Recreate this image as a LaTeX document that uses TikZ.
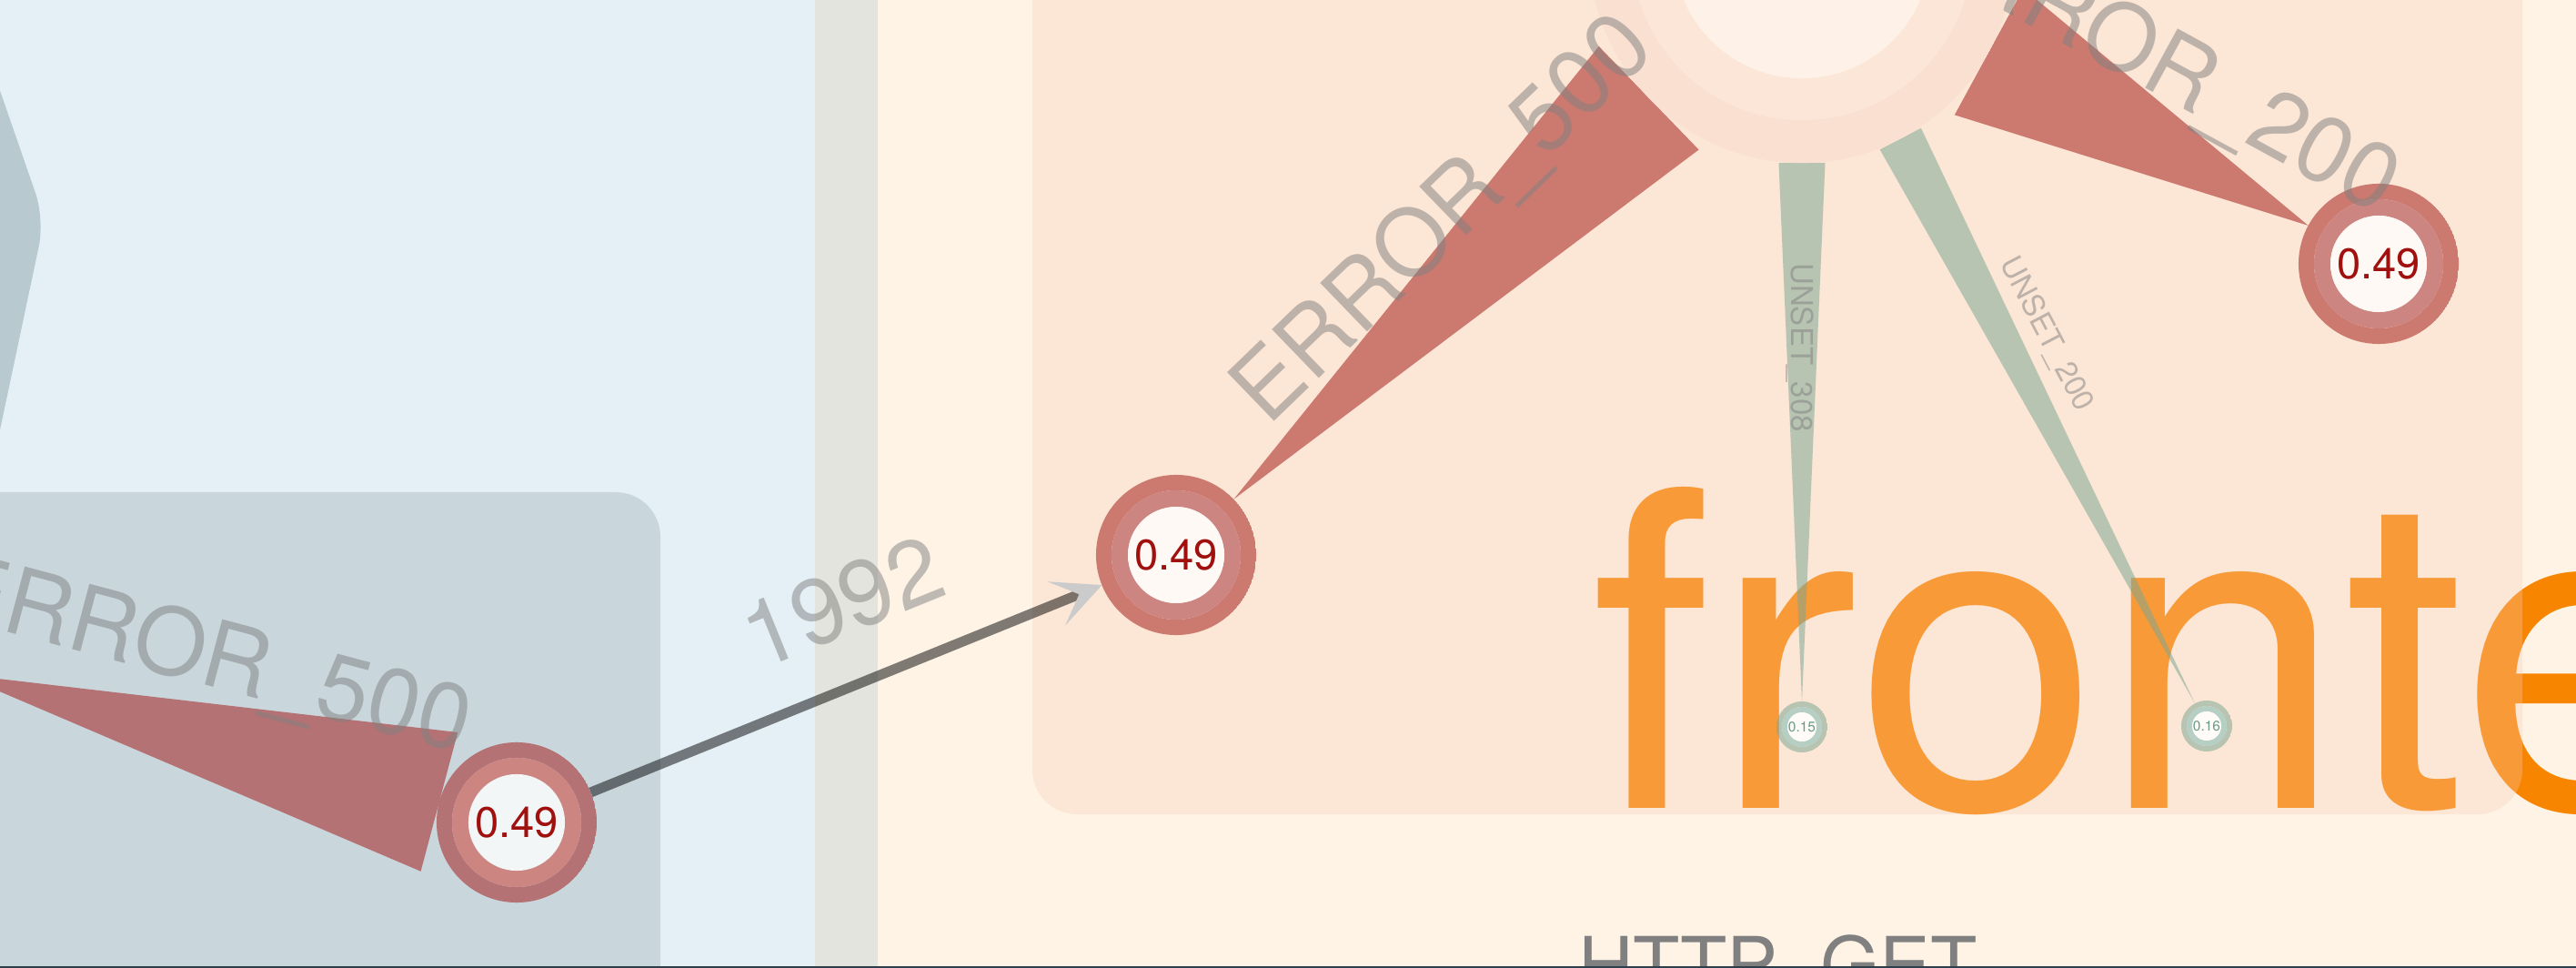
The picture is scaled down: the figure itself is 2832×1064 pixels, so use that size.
\documentclass[tikz,border=0pt]{standalone}
\usepackage{fontspec}
\setmainfont{TeX Gyre Heros}
\usetikzlibrary{positioning, arrows.meta, calc}
\definecolor{colblue}{HTML}{E4F0F5}
\definecolor{colstrip}{HTML}{E3E4DE}
\definecolor{colcream}{HTML}{FEF3E5}
\definecolor{grpblue}{HTML}{C9D7DD}
\definecolor{hexblue}{HTML}{B8C9D0}
\definecolor{grppeach}{HTML}{FACBB2}
\definecolor{svcorange}{HTML}{F78500}
\definecolor{errred}{HTML}{A21A17}
\definecolor{errmid}{HTML}{CD8581}
\definecolor{errtext}{HTML}{A0100F}
\definecolor{unsetgreen}{HTML}{7DA693}
\definecolor{unsetmid}{HTML}{B5CFC4}
\definecolor{unsettext}{HTML}{6A9A88}
\definecolor{hubouter}{HTML}{FAE0D0}
\definecolor{hubmid}{HTML}{FCE6D8}
\definecolor{hubinner}{HTML}{FDF1E8}
\definecolor{tipgray}{HTML}{CBCBCB}
\definecolor{framedark}{HTML}{2F3E4B}
\pgfdeclarelayer{back}
\pgfdeclarelayer{links}
\pgfsetlayers{back,links,main}

\begin{document}
\begin{tikzpicture}[
    x=0.01cm, y=-0.01cm,
    every node/.style={inner sep=0pt, outer sep=0pt},
    ringed/.style n args={6}{circle, minimum size=2*#1, path picture={
        \fill[#4, even odd rule] (path picture bounding box.center) circle[radius=#1] circle[radius=#2];
        \fill[#5, even odd rule] (path picture bounding box.center) circle[radius=#2] circle[radius=#3];
        \fill[#6] (path picture bounding box.center) circle[radius=#3];
      }},
    errnode/.style={ringed={0.88cm}{0.71cm}{0.53cm}{errred, fill opacity=.53}{errmid}{white, fill opacity=.78},
      text=errtext, font=\fontsize{13.4}{14}\selectfont},
    unsetnode/.style={ringed={0.28cm}{0.22cm}{0.16cm}{unsetgreen, fill opacity=.53}{unsetmid}{white, fill opacity=.85},
      text=unsettext, font=\fontsize{4.4}{5}\selectfont},
    hubnode/.style={ringed={2.34cm}{1.87cm}{1.41cm}{hubouter}{hubmid}{hubinner}},
    errwedge/.style={fill=errred, fill opacity=.53},
    unsetwedge/.style={fill=unsetgreen, fill opacity=.53},
    calls/.style={draw=black, draw opacity=.5, line width=0.11cm,
      -{Stealth[length=0.54cm, width=0.52cm, inset=0.27cm, line width=0pt, color=tipgray]}},
    elabel/.style={text=black!50, text opacity=.5, text depth=0pt, font=\fontsize{29}{29}\selectfont},
    slabel/.style={text=black!50, text opacity=.5, text depth=0pt, font=\fontsize{9.4}{9.4}\selectfont},
  ]
  \useasboundingbox (0,0) rectangle (2832,1064);
  \clip (0,0) rectangle (2832,1064);

  \begin{pgfonlayer}{back}
    % Columns
    \fill[colblue] (0,0) rectangle (896,1064);
    \fill[colstrip] (896,0) rectangle (965,1064);
    \fill[colcream] (965,0) rectangle (2832,1064);
    % Groups
    \fill[grpblue, rounded corners=0.49cm] (-100,541) rectangle (726,1200);
    \fill[hexblue, rounded corners=0.3cm] (-20,42) -- (49,241) -- (-20,567) -- cycle;
    \node[anchor=base west, text=svcorange, font=\fontsize{137.2}{138}\selectfont] (grpname) at (1748,889) {fronte};
    \node[anchor=base west, text=black!50, font=\fontsize{23.9}{24}\selectfont] (grpop) at (1735,1090) {HTTP\_GET};
    \fill[grppeach, fill opacity=.314, rounded corners=0.49cm] (1135,-100) rectangle (2773,895);
    \fill[framedark] (0,1061.5) rectangle (2832,1070);
  \end{pgfonlayer}

  % Nodes
  \node[hubnode] (hub) at (1981,-55) {};
  \node[errnode] (src500) at (568,904) {0.49};
  \node[errnode] (err500) at (1293,610) {0.49};
  \node[errnode] (err200) at (2615,290) {0.49};
  \node[unsetnode] (unset308) at (1981,799) {0.15};
  \node[unsetnode] (unset200) at (2426,798) {0.16};
  \coordinate (offleft) at (-45,741);

  \begin{pgfonlayer}{links}
    % Tapered edges
    \fill[errwedge] ($(src500.center)!0.88cm!(offleft)!0.79cm!90:(offleft)$)
      -- ($(src500.center)!0.88cm!(offleft)!0.79cm!-90:(offleft)$) -- (offleft) -- cycle;
    \fill[errwedge] ($(hub.center)!2.34cm!(err500.center)!0.79cm!90:(err500.center)$)
      -- ($(hub.center)!2.34cm!(err500.center)!0.79cm!-90:(err500.center)$)
      -- ($(err500.center)!0.88cm!(hub.center)$) -- cycle;
    \fill[errwedge] ($(hub.center)!2.34cm!(err200.center)!0.79cm!90:(err200.center)$)
      -- ($(hub.center)!2.34cm!(err200.center)!0.79cm!-90:(err200.center)$)
      -- ($(err200.center)!0.88cm!(hub.center)$) -- cycle;
    \fill[unsetwedge] ($(hub.center)!2.34cm!(unset308.center)!0.255cm!90:(unset308.center)$)
      -- ($(hub.center)!2.34cm!(unset308.center)!0.255cm!-90:(unset308.center)$)
      -- ($(unset308.center)!0.28cm!(hub.center)$) -- cycle;
    \fill[unsetwedge] ($(hub.center)!2.34cm!(unset200.center)!0.255cm!90:(unset200.center)$)
      -- ($(hub.center)!2.34cm!(unset200.center)!0.255cm!-90:(unset200.center)$)
      -- ($(unset200.center)!0.28cm!(hub.center)$) -- cycle;
    % Call
    \draw[calls] (src500) -- (err500);
  \end{pgfonlayer}

  % Labels
  \node[elabel, rotate=-14.9] (lbl-src500) at (230,715) {ERROR\_500};
  \node[elabel, rotate=22.1] (lbl-1992) at (926,661) {1992};
  \node[elabel, rotate=44] (lbl-err500) at (1582,236) {ERROR\_500};
  \node[elabel, rotate=-28.6] (lbl-err200) at (2372,61) {ERROR\_200};
  \node[slabel, rotate=-90] (lbl-unset308) at (1982,382) {UNSET\_308};
  \node[slabel, rotate=-62.4] (lbl-unset200) at (2252,366) {UNSET\_200};
\end{tikzpicture}
\end{document}
